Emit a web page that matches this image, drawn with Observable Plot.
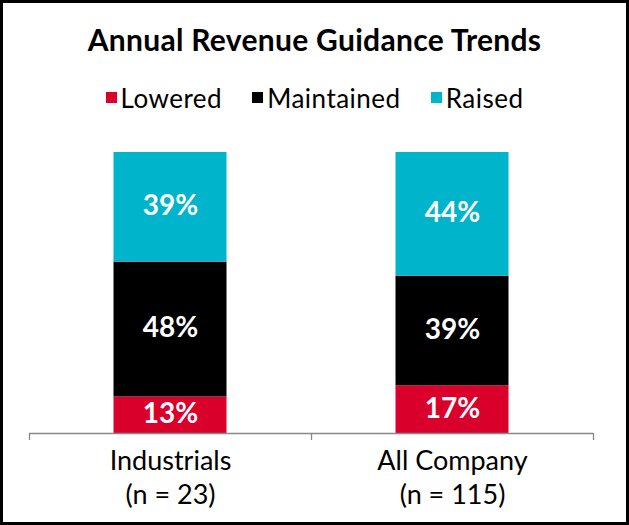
<!DOCTYPE html>
<html>
<head>
<meta charset="utf-8">
<script src="https://cdn.jsdelivr.net/npm/d3@7"></script>
<script src="https://cdn.jsdelivr.net/npm/@observablehq/plot@0.6"></script>
<style>
  html, body { margin: 0; padding: 0; background: white; }
  #frame { width: 629px; height: 525px; box-sizing: border-box; border: 3px solid #000; overflow: hidden; font-family: Lato, sans-serif; background: white; }
  #title { height: 72px; line-height: 72px; text-align: center; font-size: 30px; font-weight: bold; letter-spacing: 0.3px; color: #000; }
  #legend { height: 46px; display: flex; justify-content: center; align-items: center; gap: 30px; font-size: 26px; letter-spacing: 0.5px; color: #000; }
  #legend .item { display: flex; align-items: center; }
  #legend .sw { width: 11px; height: 11px; margin-right: 4px; margin-top: -2px; }
  #chart { margin-top: 4px; }
  #chart svg { display: block; }
</style>
</head>
<body>
<div id="frame">
  <div id="title">Annual Revenue Guidance Trends</div>
  <div id="legend"></div>
  <div id="chart"></div>
</div>
<script>
const categories = ["Industrials", "All Company"];
const sampleSizes = [23, 115];
const series = ["Lowered", "Maintained", "Raised"];
const colors = ["#D9002C", "#000000", "#00B4CC"];
const lowered = [13, 17];
const maintained = [48, 39];
const raised = [39, 44];

const values = [lowered, maintained, raised];
const data = [];
categories.forEach((c, ci) => {
  series.forEach((s, si) => data.push({category: c, series: s, value: values[si][ci]}));
});

// legend
const legend = document.getElementById("legend");
series.forEach((s, i) => {
  const item = document.createElement("div");
  item.className = "item";
  const sw = document.createElement("span");
  sw.className = "sw";
  sw.style.background = colors[i];
  const lab = document.createElement("span");
  lab.textContent = s;
  item.appendChild(sw); item.appendChild(lab);
  legend.appendChild(item);
});

const W = 623, mL = 26, mR = 33;
const bw = (W - mL - mR) / categories.length;
const barW = 113;
const inset = (bw - barW) / 2;

const chart = Plot.plot({
  width: W,
  height: 395,
  marginTop: 27,
  marginBottom: 87,
  marginLeft: mL,
  marginRight: mR,
  style: {fontFamily: "Lato, sans-serif", color: "#000", background: "white", overflow: "visible"},
  x: {domain: categories, padding: 0, label: null},
  y: {domain: [0, 100], axis: null},
  color: {domain: series, range: colors},
  marks: [
    Plot.barY(data, {x: "category", y: "value", fill: "series", insetLeft: inset, insetRight: inset}),
    Plot.text(data, Plot.stackY({x: "category", y: "value", z: "series", text: d => d.value + "%", fill: "white", fontSize: 28, fontWeight: "bold", dy: -1})),
    Plot.ruleY([0], {stroke: "#888", strokeWidth: 1.3}),
    Plot.ruleX(categories, {x: d => d, y1: 0, y2: 0, insetBottom: -7, dx: -bw / 2, stroke: "#888", strokeWidth: 1.3}),
    Plot.ruleX(categories.slice(-1), {x: d => d, y1: 0, y2: 0, insetBottom: -7, dx: bw / 2, stroke: "#888", strokeWidth: 1.3}),
    Plot.axisX({
      tickSize: 0,
      tickPadding: 13,
      fontSize: 27,
      lineHeight: 1.24,
      label: null,
      tickFormat: d => d + "\n(n = " + sampleSizes[categories.indexOf(d)] + ")"
    })
  ]
});
document.getElementById("chart").appendChild(chart);
</script>
</body>
</html>
